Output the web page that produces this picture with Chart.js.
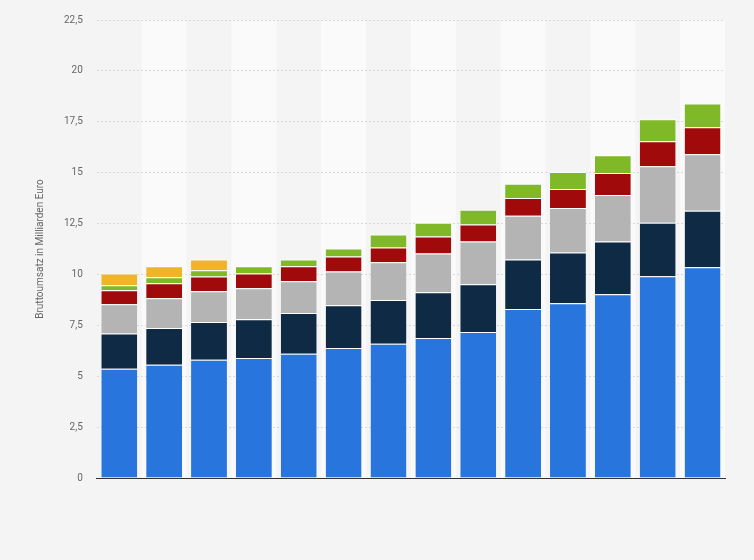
<!DOCTYPE html>
<html><head><meta charset="utf-8">
<script src="https://cdn.jsdelivr.net/npm/chart.js@4"></script>
<style>html,body{margin:0;background:#f4f4f4}#w{width:754px;height:560px}</style>
</head><body><div id="w"><canvas id="c"></canvas></div>
<script>
const categories=["1","2","3","4","5","6","7","8","9","10","11","12","13","14"];
const s1=[5.37,5.56,5.81,5.9,6.1,6.39,6.59,6.88,7.17,8.3,8.59,9.03,9.91,10.35];
const s2=[1.73,1.81,1.85,1.9,2.0,2.1,2.15,2.25,2.35,2.44,2.49,2.59,2.63,2.78];
const s3=[1.44,1.46,1.52,1.52,1.56,1.66,1.86,1.9,2.1,2.14,2.19,2.28,2.78,2.78];
const s4=[0.68,0.74,0.72,0.73,0.74,0.73,0.72,0.83,0.83,0.88,0.93,1.08,1.22,1.32];
const s5=[0.25,0.29,0.3,0.35,0.34,0.39,0.64,0.68,0.73,0.69,0.83,0.88,1.08,1.17];
const s6=[0.58,0.54,0.54,0,0,0,0,0,0,0,0,0,0,0];
const colors=["#2876dd","#0f2a45","#b4b4b4","#a10a0a","#7fb928","#f0b429"];
const series=[s1,s2,s3,s4,s5,s6];
const stripes={id:'stripes',beforeDraw(ch){const {ctx,chartArea:a,scales:{x}}=ch;ctx.save();ctx.fillStyle='#fafafa';
const w=(a.right-a.left)/categories.length;categories.forEach((c,i)=>{if(i%2==1)ctx.fillRect(a.left+i*w,a.top,w,a.bottom-a.top);});ctx.restore();}};
new Chart(document.getElementById('c'),{type:'bar',
data:{labels:categories,datasets:series.map((d,i)=>({data:d,backgroundColor:colors[i],borderColor:'#ffffff',borderWidth:{top:1},borderSkipped:false,categoryPercentage:0.8,barPercentage:1}))},
options:{responsive:true,maintainAspectRatio:false,animation:false,
layout:{padding:{left:30,right:29,top:14,bottom:74}},
plugins:{legend:{display:false},tooltip:{enabled:false}},
scales:{x:{stacked:true,grid:{display:false},border:{color:'#333'},ticks:{display:false}},
y:{stacked:true,min:0,max:22.5,border:{display:false},grid:{color:'#d8d8d8',tickLength:0,drawTicks:false},
border:{display:false,dash:[2,2]},
ticks:{stepSize:2.5,padding:14,color:'#666',font:{family:'Roboto',size:10},callback:v=>v.toLocaleString('de-DE')},
title:{display:true,text:'Bruttoumsatz in Milliarden Euro',color:'#666',font:{family:'Roboto',size:10}}}}},
plugins:[stripes]});
</script></body></html>
